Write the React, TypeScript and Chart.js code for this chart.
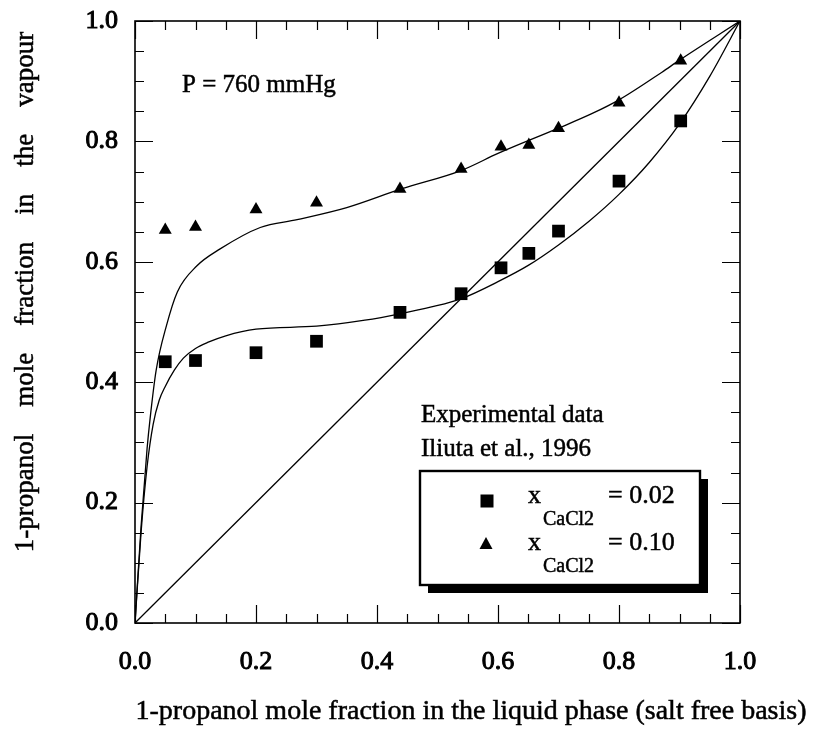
import React, { useEffect, useRef } from 'react';
import { Chart, registerables } from 'chart.js';

Chart.register(...registerables);

// Liquid-phase mole fractions of 1-propanol (salt free basis) for the measured points
const liquidX = [0.05, 0.1, 0.2, 0.3, 0.438, 0.539, 0.605, 0.651, 0.7, 0.8, 0.902];
// Vapour mole fractions, x_CaCl2 = 0.02 (squares)
const vapourLowSalt = [0.434, 0.436, 0.449, 0.468, 0.516, 0.547, 0.59, 0.614, 0.651, 0.734, 0.834];
// Vapour mole fractions, x_CaCl2 = 0.10 (triangles)
const vapourHighSalt = [0.653, 0.658, 0.687, 0.698, 0.721, 0.754, 0.791, 0.794, 0.822, 0.864, 0.934];

// Model curve, x_CaCl2 = 0.02
const modelLowX = [0, 0.01, 0.02, 0.03, 0.04, 0.05, 0.065, 0.08, 0.1, 0.12, 0.15, 0.2, 0.3, 0.38, 0.44, 0.49, 0.54, 0.6, 0.65, 0.7, 0.75, 0.8, 0.85, 0.9, 0.95, 1];
const modelLowY = [0, 0.15, 0.26, 0.33, 0.37, 0.393, 0.42, 0.44, 0.456, 0.466, 0.477, 0.488, 0.493, 0.503, 0.514, 0.525, 0.539, 0.567, 0.594, 0.628, 0.667, 0.712, 0.765, 0.829, 0.908, 1];

// Model curve, x_CaCl2 = 0.10
const modelHighX = [0, 0.01, 0.02, 0.025, 0.035, 0.052, 0.07, 0.102, 0.14, 0.207, 0.268, 0.35, 0.44, 0.54, 0.6, 0.7, 0.755, 0.8, 0.871, 0.9, 1];
const modelHighY = [0, 0.16, 0.29, 0.34, 0.42, 0.494, 0.55, 0.593, 0.621, 0.657, 0.67, 0.69, 0.721, 0.752, 0.78, 0.822, 0.846, 0.869, 0.915, 0.935, 1];

// y = x reference line
const diagonal = [0, 1];

const majorTicks = [0, 0.2, 0.4, 0.6, 0.8, 1.0];
const minorStep = 0.05;

const xTitle = '1-propanol mole fraction in the liquid phase (salt free basis)';
const yTitleWords = ['1-propanol', 'mole', 'fraction', 'in', 'the', 'vapour'];
const pressureNote = 'P = 760 mmHg';
const sourceLines = ['Experimental data', 'Iliuta et al., 1996'];
const legendValues = ['= 0.02', '= 0.10'];

const SERIF = '"Liberation Serif", "Times New Roman", serif';

const toPoints = (xs: number[], ys: number[]) => xs.map((x, i) => ({ x, y: ys[i] }));

// Filled text with a thin outline so the serif strokes read a little heavier
const inkText = (ctx: CanvasRenderingContext2D, text: string, x: number, y: number) => {
  ctx.fillText(text, x, y);
  ctx.strokeText(text, x, y);
};

const decorations = {
  id: 'decorations',
  afterDatasetsDraw(chart: any) {
    const { ctx, chartArea } = chart;
    const xs = chart.scales.x;
    const ys = chart.scales.y;
    const { left, right, top, bottom } = chartArea;
    ctx.save();
    ctx.strokeStyle = '#000';
    ctx.lineWidth = 1.6;
    ctx.strokeRect(left, top, right - left, bottom - top);

    ctx.lineWidth = 1.2;
    const major = 18;
    const minor = 9;
    for (let i = 0; i <= 20; i++) {
      const v = i * minorStep;
      const isMajor = i % 4 === 0;
      const len = isMajor ? major : minor;
      const px = Math.round(xs.getPixelForValue(v)) + 0.5;
      const py = Math.round(ys.getPixelForValue(v)) + 0.5;
      ctx.beginPath();
      // bottom and top
      ctx.moveTo(px, bottom);
      ctx.lineTo(px, bottom - len);
      ctx.moveTo(px, top);
      ctx.lineTo(px, top + len);
      // left and right
      ctx.moveTo(left, py);
      ctx.lineTo(left + len, py);
      ctx.moveTo(right, py);
      ctx.lineTo(right - len, py);
      ctx.stroke();
    }
    ctx.restore();
  },
  afterDraw(chart: any) {
    const { ctx } = chart;
    ctx.save();
    ctx.fillStyle = '#000';
    ctx.strokeStyle = '#000';
    ctx.lineWidth = 0.5;

    // axis titles
    ctx.font = `28px ${SERIF}`;
    ctx.textAlign = 'center';
    ctx.textBaseline = 'alphabetic';
    inkText(ctx, xTitle, 471, 719);

    ctx.save();
    ctx.translate(33, 292);
    ctx.rotate(-Math.PI / 2);
    ctx.font = `27px ${SERIF}`;
    const gap = 27;
    const widths = yTitleWords.map((w) => ctx.measureText(w).width);
    const total = widths.reduce((a, b) => a + b, 0) + gap * (yTitleWords.length - 1);
    let cx = -total / 2;
    ctx.textAlign = 'left';
    yTitleWords.forEach((w, i) => {
      inkText(ctx, w, cx, 0);
      cx += widths[i] + gap;
    });
    ctx.restore();

    // annotations
    ctx.font = `25px ${SERIF}`;
    ctx.textAlign = 'left';
    inkText(ctx, pressureNote, 182, 92);
    inkText(ctx, sourceLines[0], 421, 422);
    inkText(ctx, sourceLines[1], 421, 456);

    // legend box with drop shadow
    const bx = 420, by = 471, bw = 280, bh = 114, sh = 8;
    ctx.fillRect(bx + sh, by + sh, bw, bh);
    ctx.fillStyle = '#fff';
    ctx.fillRect(bx, by, bw, bh);
    ctx.fillStyle = '#000';
    ctx.lineWidth = 2.4;
    ctx.strokeRect(bx, by, bw, bh);
    ctx.lineWidth = 0.5;

    // legend markers
    ctx.fillRect(487 - 6.5, 501 - 6.5, 13, 13);
    ctx.beginPath();
    ctx.moveTo(486, 537);
    ctx.lineTo(492.5, 549);
    ctx.lineTo(479.5, 549);
    ctx.closePath();
    ctx.fill();

    // legend labels: x with CaCl2 subscript
    const rows = [503, 550];
    rows.forEach((base, i) => {
      ctx.font = `26px ${SERIF}`;
      inkText(ctx, 'x', 528, base);
      ctx.font = `20px ${SERIF}`;
      inkText(ctx, 'CaCl2', 543, base + 22);
      ctx.font = `26px ${SERIF}`;
      inkText(ctx, legendValues[i], 608, base);
    });

    ctx.restore();
  },
};

export default function App() {
  const canvasRef = useRef<HTMLCanvasElement | null>(null);

  useEffect(() => {
    const canvas = canvasRef.current;
    if (!canvas) return;
    const tickFont = { family: SERIF, size: 26 };
    const labelFor = (v: any) => (majorTicks.some((m) => Math.abs(m - v) < 1e-6) ? Number(v).toFixed(1) : '');
    const chart = new Chart(canvas, {
      type: 'scatter',
      data: {
        datasets: [
          {
            label: 'y = x',
            data: toPoints(diagonal, diagonal),
            showLine: true,
            borderColor: '#000',
            borderWidth: 1.3,
            pointRadius: 0,
          },
          {
            label: 'model 0.02',
            data: toPoints(modelLowX, modelLowY),
            showLine: true,
            borderColor: '#000',
            borderWidth: 1.3,
            pointRadius: 0,
            cubicInterpolationMode: 'monotone',
          },
          {
            label: 'model 0.10',
            data: toPoints(modelHighX, modelHighY),
            showLine: true,
            borderColor: '#000',
            borderWidth: 1.3,
            pointRadius: 0,
            cubicInterpolationMode: 'monotone',
          },
          {
            label: 'x_CaCl2 = 0.02',
            data: toPoints(liquidX, vapourLowSalt),
            pointStyle: 'rect',
            pointRadius: 9,
            backgroundColor: '#000',
            borderColor: '#000',
            borderWidth: 0,
          },
          {
            label: 'x_CaCl2 = 0.10',
            data: toPoints(liquidX, vapourHighSalt),
            pointStyle: 'triangle',
            pointRadius: 7.5,
            backgroundColor: '#000',
            borderColor: '#000',
            borderWidth: 0,
          },
        ],
      },
      options: {
        responsive: false,
        animation: false,
        layout: { padding: { top: 21, right: 85, left: 0, bottom: 0 } },
        plugins: {
          legend: { display: false },
          tooltip: { enabled: false },
        },
        scales: {
          x: {
            type: 'linear',
            min: 0,
            max: 1,
            afterFit: (s: any) => {
              s.height = 106;
              s.paddingLeft = 0;
              s.paddingRight = 0;
            },
            grid: { display: false, drawTicks: false },
            border: { display: false },
            ticks: {
              stepSize: 0.2,
              padding: 24,
              color: '#000',
              font: tickFont,
              textStrokeColor: '#000',
              textStrokeWidth: 1,
              maxRotation: 0,
              autoSkip: false,
              callback: labelFor,
            },
          },
          y: {
            type: 'linear',
            min: 0,
            max: 1,
            afterFit: (s: any) => {
              s.width = 135;
              s.paddingTop = 0;
              s.paddingBottom = 0;
            },
            grid: { display: false, drawTicks: false },
            border: { display: false },
            ticks: {
              stepSize: 0.2,
              padding: 17,
              color: '#000',
              font: tickFont,
              textStrokeColor: '#000',
              textStrokeWidth: 1,
              autoSkip: false,
              callback: labelFor,
            },
          },
        },
      },
      plugins: [decorations],
    });

    // Redraw once the serif face is ready so every label uses it
    let alive = true;
    const fonts = (document as any).fonts;
    if (fonts && fonts.load) {
      Promise.all([
        fonts.load('20px "Liberation Serif"'),
        fonts.load('26px "Liberation Serif"'),
      ]).then(() => {
        if (alive) chart.update('none');
      }).catch(() => {});
    }
    return () => {
      alive = false;
      chart.destroy();
    };
  }, []);

  return (
    <div style={{ position: 'absolute', left: 0, top: 0, width: 825, height: 729, background: '#fff' }}>
      <span style={{ fontFamily: '"Liberation Serif"', position: 'absolute', visibility: 'hidden' }}>0.</span>
      <canvas ref={canvasRef} width={825} height={729} />
    </div>
  );
}
